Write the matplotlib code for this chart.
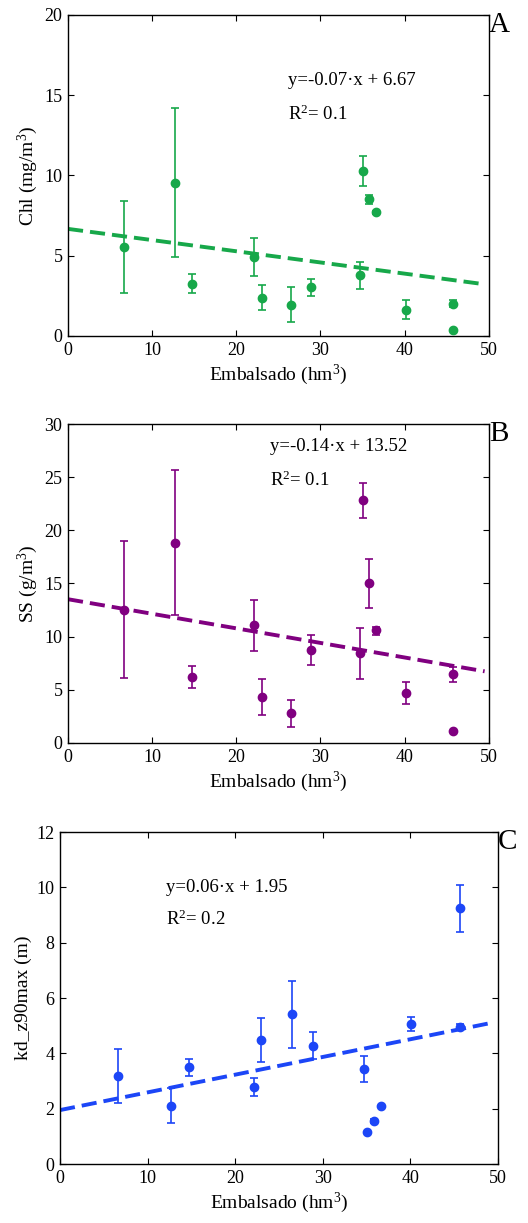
import numpy as np
from matplotlib import pyplot as plt

plt.rcParams['font.family'] = 'Liberation Serif'
plt.rcParams['mathtext.fontset'] = 'custom'
plt.rcParams['mathtext.rm'] = 'Liberation Serif'
plt.rcParams['mathtext.it'] = 'Liberation Serif:italic'

# embalsado (hm3)
x = [6.6, 12.7, 14.7, 22.1, 23.0, 26.5, 28.9, 34.7, 35.0, 35.8, 36.6, 40.1, 45.7, 45.7]

chl = [5.55, 9.56, 3.24, 4.95, 2.39, 1.95, 3.04, 3.78, 10.25, 8.52, 7.71, 1.64, 2.02, 0.37]
chl_lo = [2.68, 4.93, 2.66, 3.76, 1.60, 0.89, 2.52, 2.95, 9.36, 8.25, 7.62, 1.04, 1.82, 0.37]
chl_hi = [8.42, 14.22, 3.83, 6.11, 3.18, 3.04, 3.56, 4.62, 11.19, 8.79, 7.80, 2.27, 2.22, 0.37]

ss = [12.55, 18.8, 6.21, 11.05, 4.30, 2.79, 8.75, 8.44, 22.81, 15.03, 10.61, 4.68, 6.46, 1.13]
ss_lo = [6.09, 11.99, 5.18, 8.69, 2.60, 1.54, 7.34, 6.06, 21.15, 12.71, 10.2, 3.64, 5.74, 1.13]
ss_hi = [19.01, 25.64, 7.25, 13.43, 5.99, 4.05, 10.13, 10.83, 24.47, 17.35, 10.92, 5.74, 7.15, 1.13]

kd = [3.18, 2.11, 3.49, 2.79, 4.49, 5.42, 4.28, 3.43, 1.16, 1.56, 2.10, 5.07, 4.97, 9.24]
kd_lo = [2.22, 1.48, 3.18, 2.46, 3.70, 4.20, 3.79, 2.96, 1.16, 1.50, 2.10, 4.81, 4.87, 8.38]
kd_hi = [4.17, 2.74, 3.81, 3.10, 5.27, 6.62, 4.76, 3.90, 1.16, 1.62, 2.10, 5.33, 5.07, 10.08]

# recta de ajuste (pendiente, ordenada)
fit_chl = [-0.0697, 6.67]
fit_ss = [-0.137, 13.52]
fit_kd = [0.064, 1.95]

paneles = [
    dict(y=chl, lo=chl_lo, hi=chl_hi, fit=fit_chl, col='#17a84a', ylim=20, yt=5,
         ylab='Chl (mg/m$^3$)', letra='A', eq='y=-0.07·x + 6.67', r2='R$^2$= 0.1',
         txy=(26.1, 15.9, 13.8), pos=[0.1288, 0.7253, 0.797, 0.2625]),
    dict(y=ss, lo=ss_lo, hi=ss_hi, fit=fit_ss, col='#800080', ylim=30, yt=5,
         ylab='SS (g/m$^3$)', letra='B', eq='y=-0.14·x + 13.52', r2='R$^2$= 0.1',
         txy=(24.0, 27.9, 24.7), pos=[0.1288, 0.3925, 0.797, 0.2608]),
    dict(y=kd, lo=kd_lo, hi=kd_hi, fit=fit_kd, col='#1c46f7', ylim=12, yt=2,
         ylab='kd_z90max (m)', letra='C', eq='y=0.06·x + 1.95', r2='R$^2$= 0.2',
         txy=(12.1, 10.0, 8.85), pos=[0.1136, 0.0482, 0.8295, 0.2715]),
]

fig = plt.figure(figsize=(5.28, 12.23), dpi=100)

for p in paneles:
    ax = fig.add_axes(p['pos'])
    y = np.array(p['y'])
    err = [y - np.array(p['lo']), np.array(p['hi']) - y]
    ax.errorbar(x, y, yerr=err, fmt='o', color=p['col'], ms=6, elinewidth=1.2,
                capsize=3, capthick=1.2, zorder=3)
    xx = np.array([0, 49.5])
    ax.plot(xx, p['fit'][0] * xx + p['fit'][1], color=p['col'], lw=2.8,
            dashes=(3.9, 1.8), zorder=2)
    ax.set_xlim(0, 50)
    ax.set_ylim(0, p['ylim'])
    ax.set_xticks(range(0, 51, 10))
    ax.set_yticks(np.arange(0, p['ylim'] + 0.1, p['yt']))
    ax.tick_params(direction='in', top=True, right=True, labelsize=13,
                   length=4, width=0.8, pad=4)
    for s in ax.spines.values():
        s.set_linewidth(1.0)
    ax.set_xlabel('Embalsado (hm$^3$)', fontsize=14, labelpad=3)
    ax.set_ylabel(p['ylab'], fontsize=14, labelpad=3)
    tx, ty1, ty2 = p['txy']
    ax.text(tx, ty1, p['eq'], fontsize=13.5, va='center')
    ax.text(tx, ty2, p['r2'], fontsize=13.5, va='center')
    ax.text(1.0, 1.01, p['letra'], transform=ax.transAxes, fontsize=21,
            ha='left', va='top')

plt.savefig('out.png', dpi=100)
